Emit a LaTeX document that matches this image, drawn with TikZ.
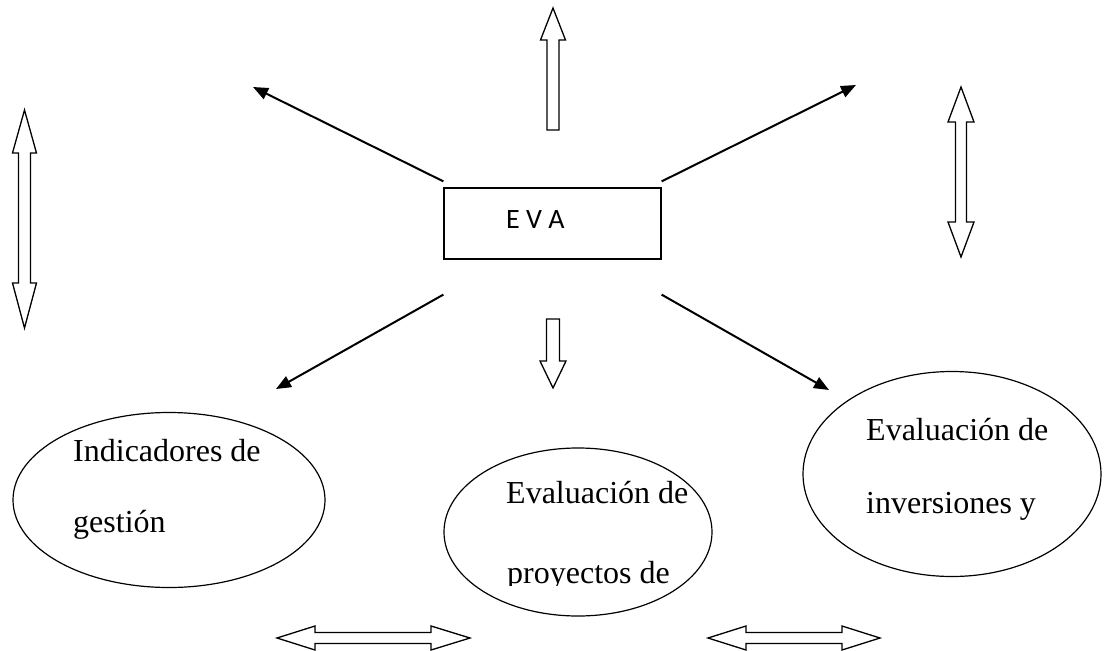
\documentclass[tikz,border=0pt]{standalone}
\usepackage{fontspec}
\setmainfont{Liberation Serif}
\newfontfamily\calibfont{Carlito}
\usetikzlibrary{arrows.meta,shapes.geometric}
\begin{document}
\begin{tikzpicture}[x=1pt,y=-1pt,
  blackarrow/.style={line width=2pt,-{Triangle[length=15pt,width=12pt]}},
  hollow/.style={draw,line width=1.3pt,fill=white,line join=miter},
  ell/.style={draw,ellipse,line width=1.2pt,inner sep=0pt},
  txt/.style={font=\fontsize{32}{32}\selectfont,anchor=base west,inner sep=0pt},
  evabox/.style={draw,rectangle,line width=1.2pt,inner sep=0pt}]
\useasboundingbox (0,0) rectangle (1104,651);

% EVA box
\node[evabox,minimum width=217pt,minimum height=71pt] (eva) at (552.5,223.5) {};
\node[anchor=base west,inner sep=0pt,font=\calibfont\fontsize{28}{28}\selectfont] (evatxt) at (506,228) {E V A};

% arrow tips
\coordinate (tul) at (253,87);
\coordinate (tur) at (856,85);
\coordinate (tdl) at (276,389);
\coordinate (tdr) at (829,390);

\draw[blackarrow] ([shift={(0,-6)}]eva.north west) -- (tul);
\draw[blackarrow] ([shift={(0,-6)}]eva.north east) -- (tur);
\draw[blackarrow] ([shift={(0,35)}]eva.south west) -- (tdl);
\draw[blackarrow] ([shift={(0,35)}]eva.south east) -- (tdr);

% hollow up arrow
\draw[hollow] (547,130) -- (547,40) -- (540.5,40) -- (553,8) -- (565.5,40) -- (559,40) -- (559,130) -- cycle;
% hollow down arrow
\draw[hollow] (546.5,319) -- (546.5,361) -- (540,361) -- (553,388) -- (566,361) -- (559.5,361) -- (559.5,319) -- cycle;
% left vertical double arrow
\draw[hollow] (18.5,153) -- (12.5,153) -- (24.5,110) -- (36.5,153) -- (30.5,153) -- (30.5,283) -- (36.5,283) -- (24.5,328) -- (12.5,283) -- (18.5,283) -- cycle;
% right vertical double arrow
\draw[hollow] (955.5,122) -- (948,122) -- (961,87) -- (974,122) -- (966.5,122) -- (966.5,222) -- (974,222) -- (961,257) -- (948,222) -- (955.5,222) -- cycle;
% bottom horizontal double arrows
\draw[hollow] (315,632.5) -- (315,626) -- (277,638) -- (315,650) -- (315,643.5) -- (431,643.5) -- (431,650) -- (470,638) -- (431,626) -- (431,632.5) -- cycle;
\draw[hollow] (746,632.5) -- (746,626) -- (708,638) -- (746,650) -- (746,643.5) -- (842,643.5) -- (842,650) -- (880,638) -- (842,626) -- (842,632.5) -- cycle;

% ellipses
\node[ell,minimum width=312pt,minimum height=175pt] (e1) at (169,500) {};
\node[ell,minimum width=268pt,minimum height=168pt] (e2) at (578,532) {};
\node[ell,minimum width=298pt,minimum height=205pt] (e3) at (952,474) {};

\node[txt] (t1a) at (73,461) {Indicadores de};
\node[txt] (t1b) at (73,532) {gestión};
\node[txt] (t2a) at (506,503) {Evaluación de};
\begin{scope}
\clip (440,540) rectangle (720,585);
\node[txt] (t2b) at (507,583) {proyectos de};
\end{scope}
\node[txt] (t3a) at (866,440) {Evaluación de};
\node[txt] (t3b) at (866,513) {inversiones y};
\end{tikzpicture}
\end{document}
